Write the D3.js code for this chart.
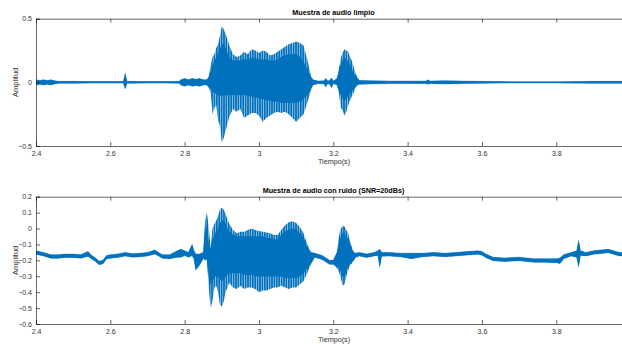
<!DOCTYPE html>
<html>
<head>
<meta charset="utf-8">
<script src="https://cdn.jsdelivr.net/npm/d3@7"></script>
<style>
  body { margin: 0; background: #fff; }
  svg { display: block; font-family: "Liberation Sans", Arial, Helvetica, sans-serif; }
</style>
</head>
<body>
<div id="chart"></div>
<script>
// ---- clean signal (envelope) ----
const t1 = [2.40, 2.41, 2.42, 2.43, 2.44, 2.45, 2.46, 2.50, 2.55, 2.60,
  2.635, 2.64, 2.645, 2.70, 2.75, 2.785, 2.79, 2.80, 2.81, 2.82,
  2.83, 2.84, 2.85, 2.86, 2.865, 2.87, 2.875, 2.88, 2.885, 2.89,
  2.895, 2.90, 2.905, 2.91, 2.915, 2.92, 2.93, 2.94, 2.95, 2.96,
  2.97, 2.98, 2.99, 3.00, 3.01, 3.02, 3.03, 3.04, 3.05, 3.06,
  3.07, 3.08, 3.09, 3.10, 3.11, 3.12, 3.13, 3.14, 3.145, 3.16,
  3.175, 3.18, 3.185, 3.19, 3.195, 3.20, 3.21, 3.215, 3.22, 3.225,
  3.23, 3.235, 3.24, 3.245, 3.25, 3.255, 3.26, 3.265, 3.27, 3.30,
  3.35, 3.40, 3.45, 3.455, 3.46, 3.50, 3.55, 3.60, 3.65, 3.70,
  3.80, 3.90, 4.00];
const cleanMax = [0.02, 0.015, 0.02, 0.015, 0.02, 0.012, 0.008, 0.008, 0.006, 0.006,
  0.006, 0.07, 0.008, 0.006, 0.006, 0.008, 0.02, 0.03, 0.02, 0.03,
  0.025, 0.03, 0.02, 0.02, 0.05, 0.13, 0.2, 0.22, 0.27, 0.3,
  0.37, 0.44, 0.42, 0.38, 0.34, 0.29, 0.22, 0.2, 0.21, 0.24,
  0.22, 0.26, 0.25, 0.23, 0.25, 0.24, 0.21, 0.22, 0.24, 0.26,
  0.28, 0.3, 0.31, 0.32, 0.31, 0.29, 0.18, 0.05, 0.02, 0.01,
  0.012, 0.03, 0.01, 0.015, 0.035, 0.01, 0.03, 0.1, 0.19, 0.23,
  0.26, 0.25, 0.24, 0.2, 0.17, 0.12, 0.07, 0.04, 0.015, 0.012,
  0.01, 0.01, 0.01, 0.02, 0.01, 0.012, 0.01, 0.008, 0.006, 0.005,
  0.005, 0.008, 0.008];
const cleanMin = [-0.02, -0.015, -0.02, -0.015, -0.02, -0.012, -0.008, -0.008, -0.006, -0.006,
  -0.006, -0.05, -0.008, -0.006, -0.006, -0.008, -0.02, -0.03, -0.02, -0.03,
  -0.025, -0.03, -0.02, -0.02, -0.04, -0.08, -0.25, -0.2, -0.18, -0.3,
  -0.34, -0.47, -0.44, -0.38, -0.33, -0.27, -0.21, -0.23, -0.21, -0.28,
  -0.26, -0.24, -0.24, -0.26, -0.31, -0.28, -0.26, -0.24, -0.23, -0.24,
  -0.23, -0.25, -0.28, -0.31, -0.28, -0.25, -0.16, -0.06, -0.02, -0.01,
  -0.012, -0.035, -0.01, -0.015, -0.04, -0.01, -0.02, -0.08, -0.2, -0.22,
  -0.26, -0.23, -0.18, -0.14, -0.11, -0.08, -0.04, -0.02, -0.015, -0.012,
  -0.01, -0.01, -0.01, -0.015, -0.01, -0.012, -0.01, -0.008, -0.006, -0.005,
  -0.005, -0.008, -0.008];
// dense (solid) part of the waveform
const cleanCoreMax = [0.02, 0.015, 0.02, 0.015, 0.02, 0.012, 0.008, 0.008, 0.006, 0.006,
  0.006, 0.07, 0.008, 0.006, 0.006, 0.008, 0.02, 0.03, 0.02, 0.03,
  0.025, 0.03, 0.02, 0.02, 0.04, 0.08, 0.12, 0.16, 0.2, 0.22,
  0.26, 0.3, 0.3, 0.27, 0.23, 0.2, 0.17, 0.17, 0.17, 0.18,
  0.18, 0.19, 0.19, 0.18, 0.18, 0.18, 0.17, 0.17, 0.18, 0.2,
  0.21, 0.22, 0.22, 0.22, 0.2, 0.16, 0.1, 0.04, 0.02, 0.01,
  0.012, 0.03, 0.01, 0.015, 0.035, 0.01, 0.03, 0.08, 0.14, 0.17,
  0.19, 0.18, 0.16, 0.13, 0.1, 0.07, 0.04, 0.03, 0.015, 0.012,
  0.01, 0.01, 0.01, 0.02, 0.01, 0.012, 0.01, 0.008, 0.006, 0.005,
  0.005, 0.008, 0.008];
const cleanCoreMin = [-0.02, -0.015, -0.02, -0.015, -0.02, -0.012, -0.008, -0.008, -0.006, -0.006,
  -0.006, -0.05, -0.008, -0.006, -0.006, -0.008, -0.02, -0.03, -0.02, -0.03,
  -0.025, -0.03, -0.02, -0.02, -0.04, -0.05, -0.07, -0.08, -0.09, -0.1,
  -0.1, -0.11, -0.1, -0.1, -0.1, -0.1, -0.1, -0.1, -0.1, -0.1,
  -0.1, -0.11, -0.12, -0.12, -0.13, -0.14, -0.14, -0.15, -0.15, -0.16,
  -0.16, -0.16, -0.16, -0.16, -0.15, -0.13, -0.1, -0.05, -0.02, -0.01,
  -0.012, -0.035, -0.01, -0.015, -0.04, -0.01, -0.02, -0.06, -0.1, -0.12,
  -0.14, -0.13, -0.11, -0.09, -0.07, -0.05, -0.03, -0.02, -0.015, -0.012,
  -0.01, -0.01, -0.01, -0.015, -0.01, -0.012, -0.01, -0.008, -0.006, -0.005,
  -0.005, -0.008, -0.008];

// ---- noisy signal (SNR = 20 dB) ----
const t2 = [2.40, 2.42, 2.44, 2.46, 2.48, 2.50, 2.52, 2.54, 2.55, 2.56,
  2.57, 2.58, 2.59, 2.60, 2.62, 2.64, 2.66, 2.68, 2.70, 2.72,
  2.73, 2.74, 2.76, 2.78, 2.79, 2.80, 2.81, 2.82, 2.825, 2.83,
  2.84, 2.85, 2.855, 2.86, 2.865, 2.87, 2.875, 2.88, 2.885, 2.89,
  2.895, 2.90, 2.905, 2.91, 2.915, 2.92, 2.93, 2.94, 2.95, 2.96,
  2.97, 2.98, 2.99, 3.00, 3.01, 3.02, 3.03, 3.04, 3.05, 3.06,
  3.07, 3.08, 3.09, 3.10, 3.11, 3.12, 3.13, 3.14, 3.15, 3.17,
  3.19, 3.20, 3.21, 3.215, 3.22, 3.225, 3.23, 3.235, 3.24, 3.245,
  3.25, 3.255, 3.26, 3.27, 3.29, 3.31, 3.32, 3.325, 3.33, 3.35,
  3.38, 3.41, 3.44, 3.47, 3.50, 3.53, 3.56, 3.59, 3.60, 3.61,
  3.63, 3.66, 3.70, 3.74, 3.77, 3.80, 3.81, 3.82, 3.84, 3.855,
  3.86, 3.865, 3.88, 3.90, 3.94, 3.97, 4.00];
const noisyMax = [-0.14, -0.15, -0.165, -0.165, -0.16, -0.16, -0.165, -0.145, -0.17, -0.185,
  -0.205, -0.2, -0.17, -0.165, -0.16, -0.15, -0.158, -0.155, -0.15, -0.135,
  -0.15, -0.165, -0.165, -0.14, -0.13, -0.14, -0.15, -0.1, -0.14, -0.16,
  -0.16, -0.15, 0.05, 0.1, 0.0, -0.12, 0.0, 0.03, 0.05, 0.08,
  0.12, 0.13, 0.12, 0.09, 0.06, 0.03, -0.01, -0.03, -0.02, -0.02,
  -0.01, 0.0, -0.01, -0.015, -0.02, -0.025, -0.03, -0.04, -0.04, -0.01,
  0.02, 0.04, 0.045, 0.035, 0.01, -0.03, -0.1, -0.15, -0.155, -0.17,
  -0.2, -0.2, -0.15, -0.05, 0.0, 0.015, 0.015, -0.01, -0.03, -0.08,
  -0.12, -0.15, -0.155, -0.15, -0.16, -0.15, -0.14, -0.13, -0.15, -0.15,
  -0.155, -0.155, -0.155, -0.15, -0.155, -0.15, -0.145, -0.14, -0.145, -0.16,
  -0.18, -0.185, -0.18, -0.19, -0.19, -0.19, -0.185, -0.165, -0.15, -0.14,
  -0.075, -0.14, -0.15, -0.14, -0.13, -0.15, -0.15];
const noisyMin = [-0.162, -0.172, -0.187, -0.187, -0.182, -0.182, -0.187, -0.175, -0.192, -0.207,
  -0.227, -0.222, -0.192, -0.187, -0.182, -0.172, -0.18, -0.177, -0.172, -0.16,
  -0.172, -0.187, -0.19, -0.18, -0.18, -0.17, -0.18, -0.17, -0.19, -0.26,
  -0.23, -0.19, -0.2, -0.2, -0.38, -0.5, -0.45, -0.37, -0.36, -0.4,
  -0.48, -0.49, -0.46, -0.4, -0.37, -0.34, -0.37, -0.38, -0.36, -0.38,
  -0.37, -0.37, -0.38, -0.4, -0.39, -0.39, -0.38, -0.37, -0.37, -0.36,
  -0.37, -0.38, -0.37, -0.37, -0.35, -0.33, -0.28, -0.22, -0.18, -0.195,
  -0.225, -0.225, -0.25, -0.27, -0.31, -0.36, -0.35, -0.3, -0.26, -0.23,
  -0.22, -0.2, -0.18, -0.172, -0.182, -0.172, -0.17, -0.24, -0.175, -0.172,
  -0.177, -0.19, -0.177, -0.172, -0.177, -0.172, -0.167, -0.162, -0.167, -0.182,
  -0.202, -0.207, -0.202, -0.212, -0.212, -0.215, -0.22, -0.19, -0.172, -0.18,
  -0.24, -0.17, -0.172, -0.162, -0.152, -0.172, -0.172];
const noisyCoreMax = [-0.14, -0.15, -0.165, -0.165, -0.16, -0.16, -0.165, -0.145, -0.17, -0.185,
  -0.205, -0.2, -0.17, -0.165, -0.16, -0.15, -0.158, -0.155, -0.15, -0.135,
  -0.15, -0.165, -0.165, -0.14, -0.13, -0.14, -0.15, -0.1, -0.14, -0.16,
  -0.16, -0.15, -0.02, 0.02, -0.1, -0.13, -0.08, -0.04, -0.02, 0.0,
  0.03, 0.05, 0.05, 0.03, 0.0, -0.02, -0.04, -0.05, -0.05, -0.05,
  -0.05, -0.05, -0.05, -0.05, -0.05, -0.06, -0.06, -0.07, -0.07, -0.04,
  -0.02, -0.01, 0.0, -0.01, -0.03, -0.06, -0.12, -0.15, -0.155, -0.17,
  -0.2, -0.2, -0.15, -0.1, -0.05, -0.03, -0.03, -0.05, -0.07, -0.1,
  -0.13, -0.15, -0.155, -0.15, -0.16, -0.15, -0.14, -0.13, -0.15, -0.15,
  -0.155, -0.155, -0.155, -0.15, -0.155, -0.15, -0.145, -0.14, -0.145, -0.16,
  -0.18, -0.185, -0.18, -0.19, -0.19, -0.19, -0.185, -0.165, -0.15, -0.14,
  -0.075, -0.14, -0.15, -0.14, -0.13, -0.15, -0.15];
const noisyCoreMin = [-0.162, -0.172, -0.187, -0.187, -0.182, -0.182, -0.187, -0.175, -0.192, -0.207,
  -0.227, -0.222, -0.192, -0.187, -0.182, -0.172, -0.18, -0.177, -0.172, -0.16,
  -0.172, -0.187, -0.19, -0.18, -0.18, -0.17, -0.18, -0.17, -0.19, -0.26,
  -0.23, -0.19, -0.19, -0.19, -0.3, -0.35, -0.33, -0.3, -0.3, -0.3,
  -0.32, -0.33, -0.32, -0.3, -0.29, -0.28, -0.28, -0.28, -0.28, -0.29,
  -0.29, -0.29, -0.3, -0.3, -0.3, -0.3, -0.3, -0.3, -0.3, -0.3,
  -0.31, -0.31, -0.31, -0.31, -0.3, -0.28, -0.25, -0.22, -0.18, -0.195,
  -0.225, -0.225, -0.24, -0.24, -0.27, -0.3, -0.3, -0.27, -0.24, -0.22,
  -0.21, -0.2, -0.18, -0.172, -0.182, -0.172, -0.17, -0.24, -0.175, -0.172,
  -0.177, -0.19, -0.177, -0.172, -0.177, -0.172, -0.167, -0.162, -0.167, -0.182,
  -0.202, -0.207, -0.202, -0.212, -0.212, -0.215, -0.22, -0.19, -0.172, -0.18,
  -0.24, -0.17, -0.172, -0.162, -0.152, -0.172, -0.172];

const xTicks = [2.4, 2.6, 2.8, 3, 3.2, 3.4, 3.6, 3.8];
const yTicksClean = [-0.5, 0, 0.5];
const yTicksNoisy = [-0.6, -0.5, -0.4, -0.3, -0.2, -0.1, 0, 0.1, 0.2];

const width = 622, height = 344;
const blue = '#0072BD';
const svg = d3.select('#chart').append('svg')
  .attr('width', width).attr('height', height);

// thin vertical stripes for the sparse (oscillating) part of the waveform
const pat = svg.append('defs').append('pattern')
  .attr('id', 'stripes').attr('patternUnits', 'userSpaceOnUse')
  .attr('width', 2.4).attr('height', 10);
pat.append('rect').attr('width', 2.4).attr('height', 10).attr('fill', '#9cc3e4');
pat.append('rect').attr('width', 1.6).attr('height', 10).attr('fill', blue);

function drawPanel(cfg) {
  const x = d3.scaleLinear().domain([2.4, 4.0]).range([36, 630.6]);
  const y = d3.scaleLinear().domain(cfg.yDomain).range([cfg.bottom, cfg.top]);
  const g = svg.append('g');
  const clipId = 'clip' + cfg.id;
  g.append('clipPath').attr('id', clipId).append('rect')
    .attr('x', 36).attr('y', cfg.top).attr('width', 600).attr('height', cfg.bottom - cfg.top);

  const rows = cfg.t.map((t, i) => ({ t, hi: cfg.hi[i], lo: cfg.lo[i], ch: cfg.ch[i], cl: cfg.cl[i] }));
  const outer = d3.area().x(d => x(d.t)).y0(d => y(d.lo)).y1(d => y(d.hi));
  const core = d3.area().x(d => x(d.t)).y0(d => y(d.cl)).y1(d => y(d.ch));
  const plot = g.append('g').attr('clip-path', `url(#${clipId})`);
  plot.append('path').datum(rows).attr('d', outer)
    .attr('fill', 'url(#stripes)');
  plot.append('path').datum(rows).attr('d', core)
    .attr('fill', blue).attr('stroke', blue).attr('stroke-width', 0.4);

  // axes (MATLAB style: box, ticks inward)
  const axisColor = '#262626';
  g.append('g').attr('transform', `translate(0,${cfg.bottom})`)
    .call(d3.axisBottom(x).tickValues(xTicks).tickSize(-4).tickPadding(5).tickFormat(d3.format('')))
    .call(a => a.select('.domain').attr('stroke', axisColor).attr('stroke-width', 0.7))
    .call(a => a.selectAll('line').attr('stroke', axisColor).attr('stroke-width', 0.7))
    .call(a => a.selectAll('text').attr('fill', '#333').attr('font-size', 7));
  g.append('g').attr('transform', `translate(0,${cfg.top})`)
    .call(d3.axisTop(x).tickValues(xTicks).tickSize(-4).tickFormat(''))
    .call(a => a.select('.domain').attr('stroke', axisColor).attr('stroke-width', 0.7))
    .call(a => a.selectAll('line').attr('stroke', axisColor).attr('stroke-width', 0.7));
  g.append('g').attr('transform', 'translate(36,0)')
    .call(d3.axisLeft(y).tickValues(cfg.yTicks).tickSize(-4).tickPadding(4).tickFormat(d3.format('')))
    .call(a => a.select('.domain').attr('stroke', axisColor).attr('stroke-width', 0.7))
    .call(a => a.selectAll('line').attr('stroke', axisColor).attr('stroke-width', 0.7))
    .call(a => a.selectAll('text').attr('fill', '#333').attr('font-size', 7));

  g.append('text').attr('x', 333.5).attr('y', cfg.top - 4)
    .attr('text-anchor', 'middle').attr('font-size', 7.2).attr('font-weight', 'bold')
    .attr('fill', '#000').text(cfg.title);
  g.append('text').attr('x', 334).attr('y', cfg.bottom + 17.5)
    .attr('text-anchor', 'middle').attr('font-size', 7.2).attr('fill', '#333').text('Tiempo(s)');
  g.append('text')
    .attr('transform', `translate(18,${(cfg.top + cfg.bottom) / 2}) rotate(-90)`)
    .attr('text-anchor', 'middle').attr('font-size', 7.5).attr('fill', '#333').text('Amplitud');
}

drawPanel({ id: 1, t: t1, hi: cleanMax, lo: cleanMin, ch: cleanCoreMax, cl: cleanCoreMin,
  yDomain: [-0.5, 0.5], yTicks: yTicksClean, top: 18.7, bottom: 146,
  title: 'Muestra de audio limpio' });
drawPanel({ id: 2, t: t2, hi: noisyMax, lo: noisyMin, ch: noisyCoreMax, cl: noisyCoreMin,
  yDomain: [-0.6, 0.2], yTicks: yTicksNoisy, top: 196.7, bottom: 324,
  title: 'Muestra de audio con ruido (SNR=20dBs)' });
</script>
</body>
</html>
